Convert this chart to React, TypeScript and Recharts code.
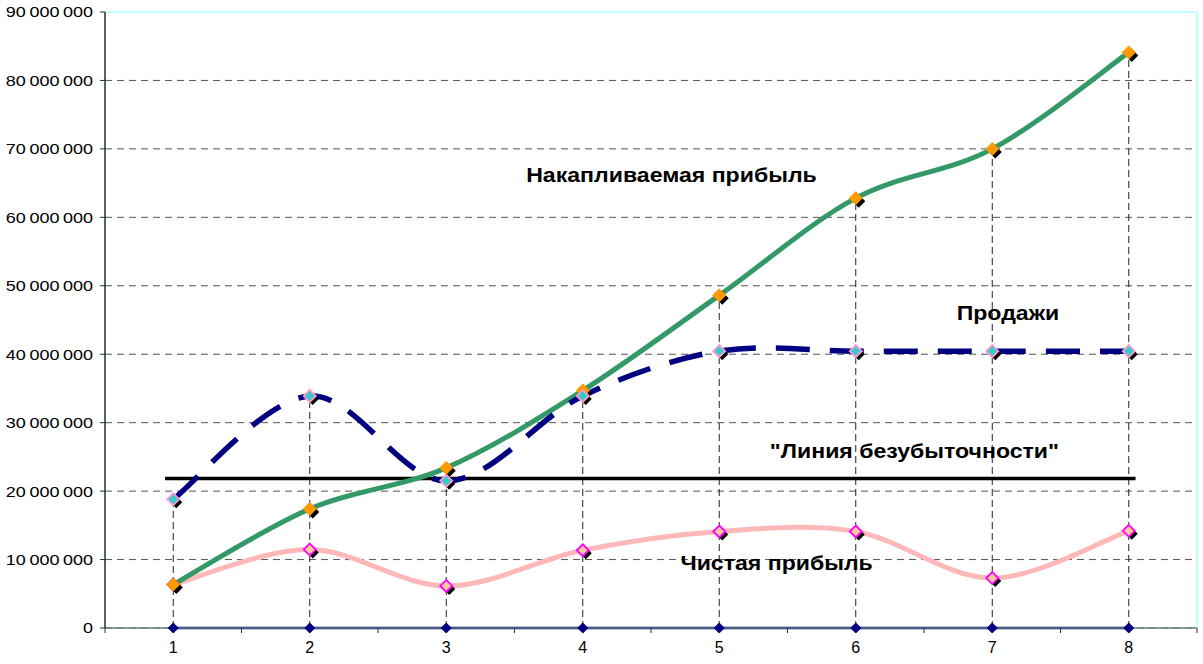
import React from 'react';
import { LineChart, Line, XAxis, YAxis, CartesianGrid, ReferenceLine, ReferenceDot } from 'recharts';

const categories = [1, 2, 3, 4, 5, 6, 7, 8];
const cumulativeProfit = [6350000, 17400000, 23400000, 34700000, 48600000, 62800000, 70000000, 84100000];
const sales = [18800000, 33900000, 21500000, 33900000, 40450000, 40450000, 40450000, 40450000];
const netProfit = [6350000, 11460000, 6140000, 11360000, 14100000, 14100000, 7300000, 14200000];
const zeroSeries = [0, 0, 0, 0, 0, 0, 0, 0];
const breakEvenValue = 21840000;
const breakEvenExtent = [0.94, 8.05];
const yTicks = [0, 10000000, 20000000, 30000000, 40000000, 50000000, 60000000, 70000000, 80000000, 90000000];
const xDomain = [0.5, 8.5];

const annotations = [
  { text: 'Накапливаемая прибыль', x: 4.65, y: 66300000 },
  { text: 'Продажи', x: 7.115, y: 46100000 },
  { text: '"Линия безубыточности"', x: 6.43, y: 26000000 },
  { text: 'Чистая прибыль', x: 5.42, y: 9600000 },
];

const data = categories.map((c, i) => ({
  x: c,
  cum: cumulativeProfit[i],
  sales: sales[i],
  net: netProfit[i],
  zero: zeroSeries[i],
}));
const breakEvenData = breakEvenExtent.map((x) => ({ x, be: breakEvenValue }));
const xTicks = [...categories.flatMap((c) => [c - 0.5, c]), categories[categories.length - 1] + 0.5];

const FONT = '"Liberation Sans", Arial, sans-serif';

function excelCurve(context: any) {
  let pts: number[][] = [];
  return {
    areaStart() {},
    areaEnd() {},
    lineStart() {
      pts = [];
    },
    lineEnd() {
      const n = pts.length;
      if (!n) return;
      context.moveTo(pts[0][0], pts[0][1]);
      for (let i = 0; i < n - 1; i++) {
        const p0 = pts[i - 1] || pts[i];
        const p1 = pts[i];
        const p2 = pts[i + 1];
        const p3 = pts[i + 2] || p2;
        context.bezierCurveTo(
          p1[0] + (p2[0] - p0[0]) / 6,
          p1[1] + (p2[1] - p0[1]) / 6,
          p2[0] - (p3[0] - p1[0]) / 6,
          p2[1] - (p3[1] - p1[1]) / 6,
          p2[0],
          p2[1]
        );
      }
    },
    point(x: number, y: number) {
      pts.push([+x, +y]);
    },
  };
}

const diamond = (cx: number, cy: number, r: number) =>
  `M${cx},${cy - r}L${cx + r},${cy}L${cx},${cy + r}L${cx - r},${cy}Z`;

const makeDot = (fill: string, stroke: string, r: number, shadow: boolean, sw = 1.5) => (props: any) => {
  const { cx, cy, index } = props;
  if (cx == null || cy == null) return <g key={`e${index}`} />;
  return (
    <g key={`d${index}`}>
      {shadow && <path d={diamond(cx + 3, cy + 3, r)} fill="#000" />}
      <path d={diamond(cx, cy, r)} fill={fill} stroke={stroke} strokeWidth={sw} />
    </g>
  );
};

const XTick = (props: any) => {
  const { x, y, payload } = props;
  const v = payload.value;
  if (Number.isInteger(v)) {
    return (
      <text x={x} y={y + 25} textAnchor="middle" fontFamily={FONT} fontSize={16} fill="#000">
        {v}
      </text>
    );
  }
  return <line x1={x} x2={x} y1={y} y2={y + 5} stroke="#333" strokeWidth={1} />;
};

const YTick = (props: any) => {
  const { x, y, payload } = props;
  const groups = String(payload.value).replace(/\B(?=(\d{3})+(?!\d))/g, ' ').split(' ');
  return (
    <text
      transform={`translate(${x},${y}) scale(1.2,1)`}
      x={0}
      y={0}
      dy="0.36em"
      textAnchor="end"
      fontFamily={FONT}
      fontSize={15}
      fill="#000"
    >
      {groups.map((g, i) => (
        <tspan key={i} dx={i === 0 ? 0 : 3}>
          {g}
        </tspan>
      ))}
    </text>
  );
};

const maxAt = (i: number) => Math.max(cumulativeProfit[i], sales[i], netProfit[i]);

export default function App() {
  return (
    <div style={{ position: 'absolute', left: 0, top: 0, width: 1203, height: 664, background: '#fff' }}>
      <LineChart width={1203} height={664} data={data} margin={{ top: 12, right: 6, bottom: 6, left: 0 }}>
        <CartesianGrid horizontal vertical={false} stroke="#555" strokeDasharray="7 5" />
        <XAxis
          dataKey="x"
          type="number"
          domain={xDomain}
          ticks={xTicks}
          interval={0}
          tickLine={false}
          tickSize={0}
          tickMargin={0}
          height={30}
          tick={<XTick />}
          axisLine={{ stroke: '#5f7f7f', strokeWidth: 1.5 }}
        />
        <YAxis
          type="number"
          domain={[0, 90000000]}
          ticks={yTicks}
          interval={0}
          width={105}
          tickSize={5}
          tickMargin={7}
          tick={<YTick />}
          tickLine={{ stroke: '#1a3333' }}
          axisLine={{ stroke: '#1a3333', strokeWidth: 1.5 }}
        />
        <ReferenceLine y={90000000} stroke="#BFFFFF" strokeWidth={2} />
        <ReferenceLine x={8.5} stroke="#BFFFFF" strokeWidth={2} />
        {categories.map((c, i) => (
          <ReferenceLine
            key={`drop${c}`}
            segment={[
              { x: c, y: 0 },
              { x: c, y: maxAt(i) },
            ]}
            stroke="#222"
            strokeDasharray="7 4"
            strokeWidth={1}
          />
        ))}
        <Line
          data={breakEvenData}
          dataKey="be"
          type="linear"
          stroke="#000"
          strokeWidth={3.5}
          dot={false}
          activeDot={false}
          isAnimationActive={false}
        />
        <Line
          dataKey="zero"
          type="linear"
          stroke="#000080"
          strokeWidth={2.5}
          dot={makeDot('#000080', '#000080', 5, false, 1)}
          activeDot={false}
          isAnimationActive={false}
        />
        <Line
          dataKey="net"
          type={excelCurve as any}
          stroke="#FFB8B8"
          strokeWidth={5}
          dot={makeDot('#FFCC99', '#FF00FF', 6, true, 1.8)}
          activeDot={false}
          isAnimationActive={false}
        />
        <Line
          dataKey="cum"
          type={excelCurve as any}
          stroke="#339966"
          strokeWidth={5}
          dot={makeDot('#FF9900', '#FF9900', 6.5, true, 1)}
          activeDot={false}
          isAnimationActive={false}
        />
        <Line
          dataKey="sales"
          type={excelCurve as any}
          stroke="#000080"
          strokeWidth={5.5}
          strokeDasharray="34 20"
          dot={makeDot('#33CCCC', '#FF99CC', 6, true, 1.8)}
          activeDot={false}
          isAnimationActive={false}
        />
        {annotations.map((a) => (
          <ReferenceDot
            key={a.text}
            x={a.x}
            y={a.y}
            r={0}
            isFront
            shape={(p: any) => (
              <text
                transform={`translate(${p.cx},${p.cy}) scale(1.1,1)`}
                x={0}
                y={0}
                dy="0.36em"
                textAnchor="middle"
                fontFamily={FONT}
                fontWeight="bold"
                fontSize={21}
                fill="#000"
              >
                {a.text}
              </text>
            )}
          />
        ))}
      </LineChart>
    </div>
  );
}
